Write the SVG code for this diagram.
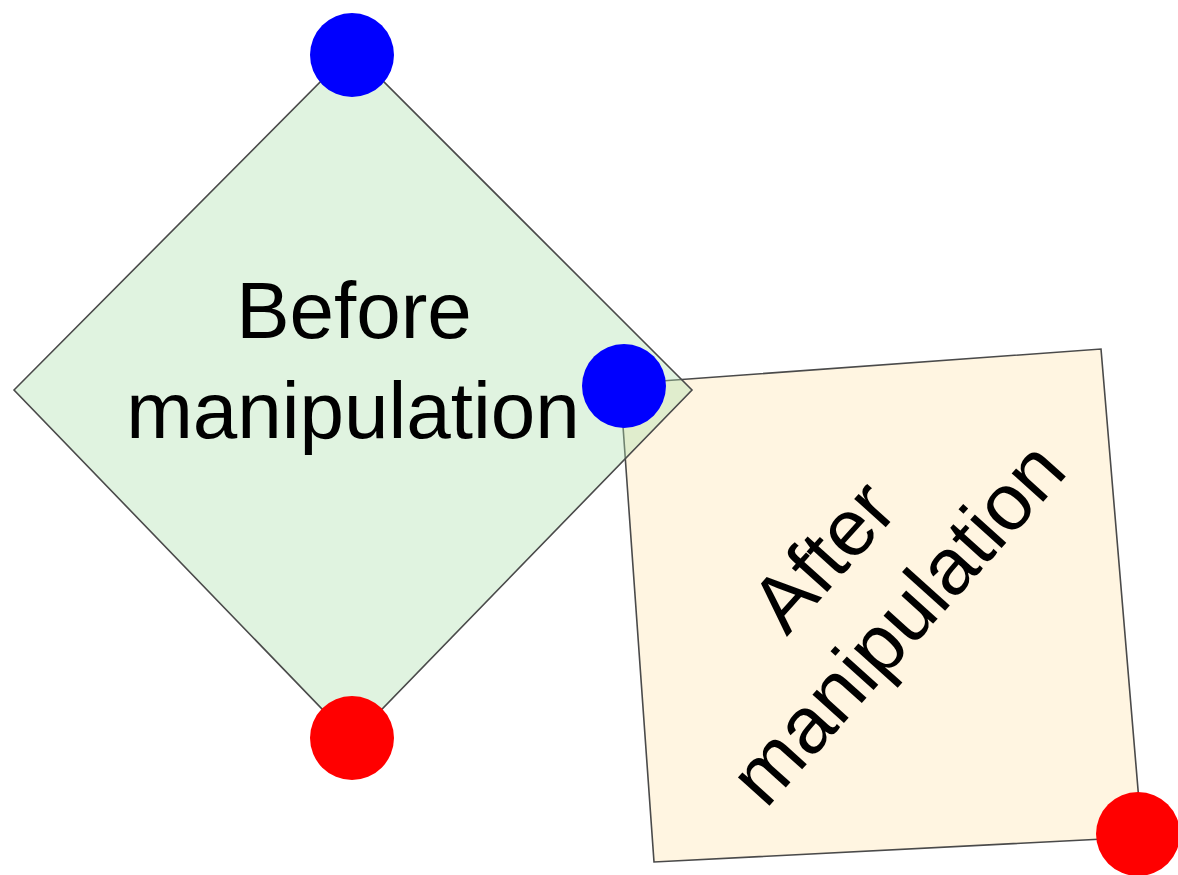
<svg xmlns="http://www.w3.org/2000/svg" width="1178" height="875" viewBox="0 0 1178 875">
<style>
.shape{stroke:#4a4a4a;stroke-width:1.6;stroke-linejoin:miter}
.lbl{font-family:"Liberation Sans",Arial,sans-serif;font-size:80px;fill:#000;text-anchor:middle}
</style>
<rect width="1178" height="875" fill="#ffffff"/>
<g id="after">
<polygon class="shape" points="620,384 1101,349 1142,837 654,862" fill="#fff5e1"/>
<g transform="translate(873,601) rotate(-48)">
<text class="lbl" x="0" y="-40">After</text>
<text class="lbl" x="0" y="60">manipulation</text>
</g>
</g>
<g id="before">
<polygon class="shape" points="14,390 352,50 692,390 352,740" fill="#aee0ae" fill-opacity="0.38"/>
<text class="lbl" x="354" y="338">Before</text>
<text class="lbl" x="353" y="438">manipulation</text>
</g>
<g id="connectors"></g>
<g id="points">
<circle id="blue-top" cx="352" cy="55" r="42" fill="#0000ff"/>
<circle id="blue-mid" cx="624" cy="386" r="42" fill="#0000ff"/>
<circle id="red-bottom" cx="352" cy="738" r="42" fill="#ff0000"/>
<circle id="red-corner" cx="1138" cy="834" r="42" fill="#ff0000"/>
</g>
</svg>
